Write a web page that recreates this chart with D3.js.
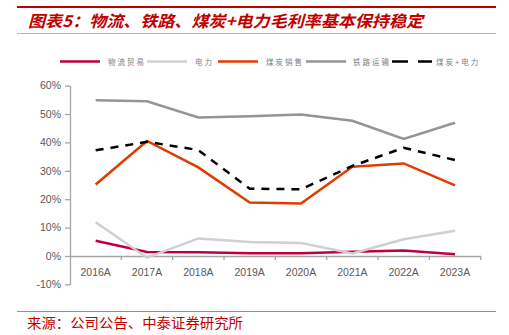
<!DOCTYPE html>
<html><head><meta charset="utf-8">
<script src="https://cdn.jsdelivr.net/npm/d3@7"></script>
<style>body{margin:0;background:#fff}svg{display:block}</style>
</head><body><svg id="c" width="509" height="335"></svg>
<script>
const categories = ["2016A","2017A","2018A","2019A","2020A","2021A","2022A","2023A"];
const logistics = [5.4, 1.4, 1.3, 1.0, 1.0, 1.5, 1.9, 0.6];
const power = [11.9, -0.6, 6.2, 4.9, 4.6, 0.9, 5.9, 8.9];
const coalSales = [25.2, 40.5, 31.2, 18.8, 18.5, 31.4, 32.6, 24.9];
const railway = [54.8, 54.5, 48.8, 49.2, 49.8, 47.6, 41.2, 46.9];
const coalPower = [37.2, 40.2, 37.3, 23.7, 23.5, 31.7, 38.1, 33.8];
const yTicks = [-10, 0, 10, 20, 30, 40, 50, 60];
const seriesNames = ["物流贸易","电力","煤炭销售","铁路运输","煤炭+电力"];

const series = [
  {name: seriesNames[0], values: logistics, color: "#C0003C", dash: null},
  {name: seriesNames[1], values: power, color: "#D0D0D0", dash: null},
  {name: seriesNames[2], values: coalSales, color: "#E03C00", dash: null},
  {name: seriesNames[3], values: railway, color: "#959595", dash: null},
  {name: seriesNames[4], values: coalPower, color: "#000000", dash: "8,7"}
];

const svg = d3.select("#c");
const red = "#C00000";

// header lines and title
svg.append("line").attr("x1",17).attr("x2",496).attr("y1",7).attr("y2",7).attr("stroke",red).attr("stroke-width",2);
svg.append("text").attr("x",28).attr("y",27)
  .attr("font-family","'Noto Sans CJK SC'").attr("font-weight","bold").attr("font-style","italic")
  .attr("font-size",16).attr("fill",red)
  .attr("textLength",395).attr("lengthAdjust","spacingAndGlyphs")
  .text("图表5：物流、铁路、煤炭+电力毛利率基本保持稳定");
svg.append("line").attr("x1",17).attr("x2",496).attr("y1",33.5).attr("y2",33.5).attr("stroke","#E8A0A0").attr("stroke-width",1);

// scales
const x = d3.scaleBand().domain(categories).range([70, 480.7]);
const y = d3.scaleLinear().domain([-10, 60]).range([284.4, 85.6]);

// y axis
const yAxis = svg.append("g").attr("transform","translate(70,0)")
  .call(d3.axisLeft(y).tickValues(yTicks).tickFormat(d => d + "%").tickSize(5).tickSizeOuter(0));
yAxis.select(".domain").attr("stroke","#A6A6A6").attr("stroke-width",1.3);
yAxis.selectAll(".tick line").attr("stroke","#A6A6A6").attr("stroke-width",1.3);
yAxis.selectAll("text").attr("fill","#595959").attr("font-family","'Liberation Sans', Arial").attr("font-size",10.5).attr("dx",-1);

// x axis at 0
const xAxis = svg.append("g").attr("transform",`translate(0,${y(0)})`)
  .call(d3.axisBottom(x).tickSize(0).tickPadding(13));
xAxis.select(".domain").attr("stroke","#A6A6A6").attr("stroke-width",1.5);
xAxis.selectAll("text").attr("fill","#595959").attr("font-family","'Liberation Sans', Arial").attr("font-size",10.5);
// tick marks at band boundaries
const bounds = categories.map(c => x(c)).slice(1).concat([x.range()[1]]);
svg.append("g").selectAll("line").data(bounds).join("line")
  .attr("x1",d=>d).attr("x2",d=>d).attr("y1",y(0)).attr("y2",y(0)+4)
  .attr("stroke","#A6A6A6").attr("stroke-width",1.3);

// lines
const line = d3.line().x((d,i) => x(categories[i]) + x.bandwidth()/2).y(d => y(d));
svg.append("g").selectAll("path").data(series).join("path")
  .attr("d", d => line(d.values))
  .attr("fill","none").attr("stroke", d => d.color).attr("stroke-width",2.5)
  .attr("stroke-dasharray", d => d.dash);

// legend
const legendPos = [
  {lx:60, tx:108},
  {lx:147, tx:195},
  {lx:218, tx:266},
  {lx:306, tx:353},
  {lx:392, tx:436}
];
const lg = svg.append("g");
series.forEach((s, i) => {
  const p = legendPos[i];
  if (s.dash) {
    lg.append("line").attr("x1",p.lx).attr("x2",p.lx+16).attr("y1",61.5).attr("y2",61.5).attr("stroke",s.color).attr("stroke-width",2.5);
    lg.append("line").attr("x1",p.lx+26).attr("x2",p.lx+40).attr("y1",61.5).attr("y2",61.5).attr("stroke",s.color).attr("stroke-width",2.5);
  } else {
    lg.append("line").attr("x1",p.lx).attr("x2",p.lx+40).attr("y1",61.5).attr("y2",61.5).attr("stroke",s.color).attr("stroke-width",2.5);
  }
  lg.append("text").attr("x",p.tx).attr("y",64.5)
    .attr("font-family","'Noto Sans CJK SC'").attr("font-size",7.5).attr("fill","#808080")
    .attr("letter-spacing",2)
    .text(s.name);
});

// footer
svg.append("line").attr("x1",17).attr("x2",496).attr("y1",311.5).attr("y2",311.5).attr("stroke","#E07070").attr("stroke-width",1);
svg.append("text").attr("x",27).attr("y",328)
  .attr("font-family","'Noto Sans CJK SC'").attr("font-size",13.5).attr("fill",red)
  .attr("textLength",216).attr("lengthAdjust","spacingAndGlyphs")
  .text("来源：公司公告、中泰证券研究所");
</script></body></html>
